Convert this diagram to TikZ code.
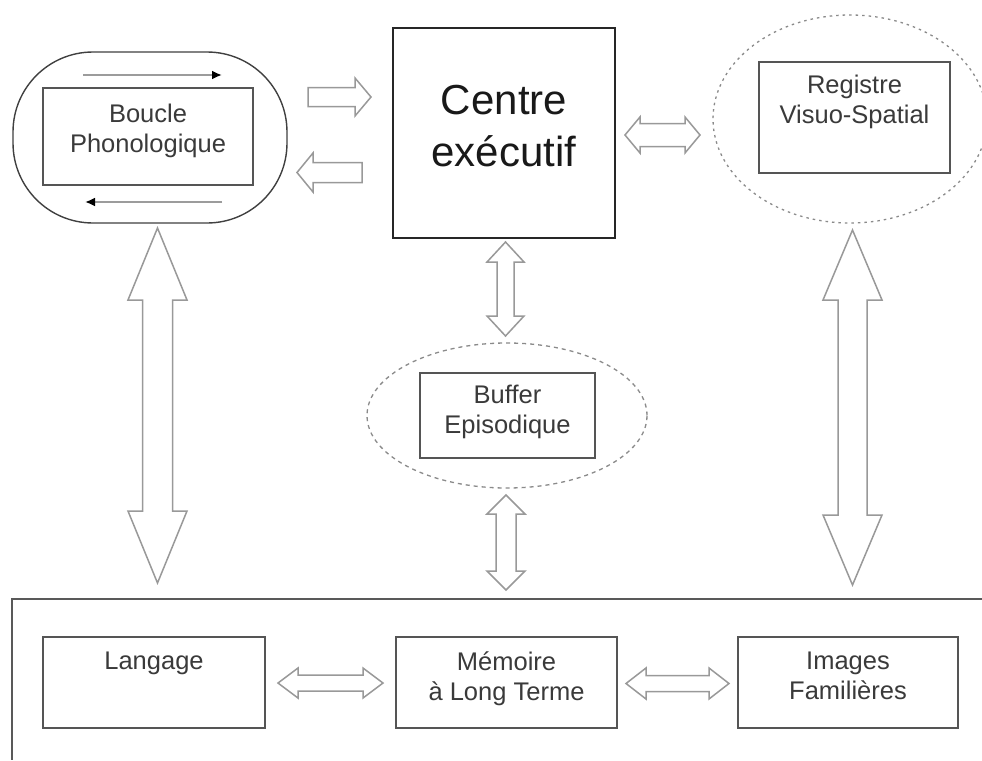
\documentclass[tikz,border=0pt]{standalone}
\usepackage{fontspec}
\setmainfont{Liberation Sans}
\usetikzlibrary{arrows.meta,shapes.geometric,calc}

\definecolor{boxline}{HTML}{555555}
\definecolor{txt}{HTML}{3A3A3A}
\definecolor{arrowline}{HTML}{999999}
\definecolor{dashline}{HTML}{8A8A8A}
\definecolor{loopline}{HTML}{9C9C9C}

% Double block arrow: name, centre, angle, half length, head half width,
% shaft half width, head length
\newcommand\dblblock[7]{%
  \coordinate (#1) at #2;
  \draw[blockarrow, shift={#2}, rotate=#3]
    ({-#4},0) -- ({-#4+#7},{-#5}) -- ({-#4+#7},{-#6}) -- ({#4-#7},{-#6})
    -- ({#4-#7},{-#5}) -- ({#4},0) -- ({#4-#7},{#5}) -- ({#4-#7},{#6})
    -- ({-#4+#7},{#6}) -- ({-#4+#7},{#5}) -- cycle;}

\begin{document}
\begin{tikzpicture}[x=1pt, y=-1pt,
  box/.style={draw=boxline, line width=1.4pt, inner sep=0pt, fill=white},
  mainbox/.style={draw=black!85, line width=1.6pt, inner sep=0pt},
  dotell/.style={ellipse, draw=dashline, line width=1.3pt, inner sep=0pt,
    dash pattern=on 2.5pt off 4pt},
  blockarrow/.style={draw=arrowline, line width=1.5pt, fill=white, line join=miter},
  lbl/.style={font=\fontsize{25.5}{29.5}\selectfont, text=txt, align=center, inner sep=0pt},
  biglbl/.style={font=\fontsize{42}{52}\selectfont, text=black!90, align=center, inner sep=0pt},
  looparrow/.style={draw=loopline, line width=2.6pt, -{Latex[length=10pt, width=9pt, black]}}
]
\clip (0,0) rectangle (982,760);
\fill[white] (0,0) rectangle (982,760);

% ---- Phonological loop ----
\node[draw=black!75, line width=1.4pt, rounded corners=80pt, inner sep=0pt,
      minimum width=274, minimum height=171] (loopout) at (150,137.5) {};
\node[box, minimum width=210, minimum height=97] (boucle) at (148,136.5) {};
\node[lbl, anchor=north] (bouclet) at (148,104) {Boucle\\Phonologique};
\coordinate (lt1) at (83,75);  \coordinate (lt2) at (222,75);
\coordinate (lb1) at (222,202); \coordinate (lb2) at (85,202);
\draw[looparrow] (lt1) -- (lt2);
\draw[looparrow] (lb1) -- (lb2);

% ---- Central executive ----
\node[mainbox, minimum width=222, minimum height=210] (centre) at (504,133) {};
\node[biglbl, anchor=north] (centret) at (504,85) {Centre\\exécutif};

% ---- Visuo-spatial sketchpad ----
\node[dotell, minimum width=274, minimum height=208] (regell) at (850,119) {};
\node[box, minimum width=191, minimum height=111] (registre) at (854.5,117.5) {};
\node[lbl, anchor=north] (registret) at (854.5,75) {Registre\\Visuo-Spatial};

% ---- Episodic buffer ----
\node[dotell, dash pattern=on 4pt off 4pt, minimum width=280, minimum height=145] (bufell) at (507,415.5) {};
\node[box, minimum width=175, minimum height=85] (buffer) at (507.5,415.5) {};
\node[lbl, anchor=north] (buffert) at (507.5,385) {Buffer\\Episodique};

% ---- Long-term memory ----
\coordinate (frA) at (982,599);
\coordinate (frB) at (12,599);
\coordinate (frC) at (12,760);
\draw[draw=black!65, line width=1.5pt] (frA) -- (frB) -- (frC);
\node[box, minimum width=222, minimum height=91] (langage) at (154,682.5) {};
\node[lbl, anchor=north] (langaget) at (154,652) {Langage};
\node[box, minimum width=221, minimum height=91] (memoire) at (506.5,682.5) {};
\node[lbl, anchor=north] (memoiret) at (506.5,652) {Mémoire\\à Long Terme};
\node[box, minimum width=220, minimum height=91] (images) at (848,682.5) {};
\node[lbl, anchor=north] (imagest) at (848,652) {Images\\Familières};

% ---- Single block arrows between loop and executive ----
\coordinate (toC) at (339.5,97);
\draw[blockarrow, shift={(toC)}]
  (-31.5,-9.5) -- (15.5,-9.5) -- (15.5,-19) -- (31.5,0) -- (15.5,19)
  -- (15.5,9.5) -- (-31.5,9.5) -- cycle;
\coordinate (toL) at (329.5,172.5);
\draw[blockarrow, shift={(toL)}]
  (32.5,-10) -- (-16.5,-10) -- (-16.5,-19.5) -- (-32.5,0) -- (-16.5,19.5)
  -- (-16.5,10) -- (32.5,10) -- cycle;

% ---- Double block arrows ----
\dblblock{cr}{(662.5,135)}{0}{37.5}{18}{11.5}{15}
\dblblock{lv}{(157.5,405.5)}{90}{177.5}{29.5}{15}{72}
\dblblock{rv}{(852.5,407.5)}{90}{177.5}{29.5}{14.5}{70}
\dblblock{cb}{(505.5,289)}{90}{47}{18.5}{8.5}{20}
\dblblock{bm}{(506,542.5)}{90}{47.5}{19}{10}{19}
\dblblock{lm}{(330.5,683)}{0}{52.5}{15}{8}{20}
\dblblock{mi}{(677.5,683.5)}{0}{51.5}{15.5}{8}{20}
\end{tikzpicture}
\end{document}
